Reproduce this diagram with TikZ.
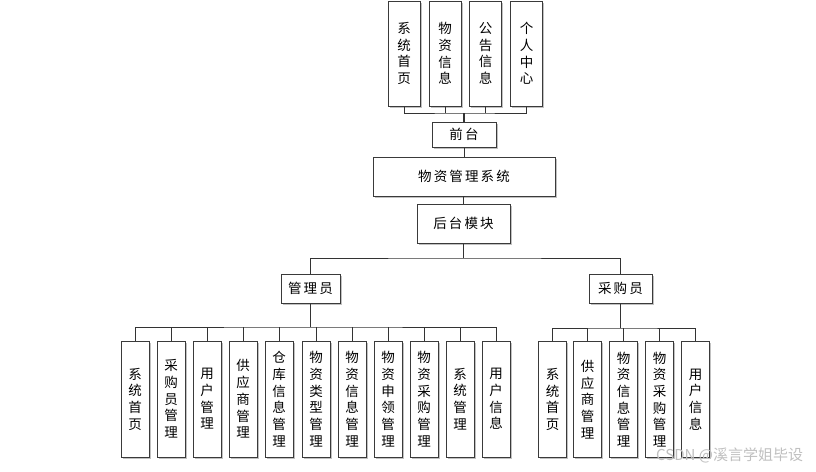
\documentclass[tikz,border=0pt]{standalone}
\usepackage{fontspec}
\newfontfamily\cjk{Noto Sans CJK SC}
\newfontfamily\cjkh[LetterSpace=16]{Noto Sans CJK SC}
\usetikzlibrary{shadows}
\definecolor{linec}{HTML}{333333}
\definecolor{boxc}{HTML}{3A3A3A}
\tikzset{
  box/.style={draw=boxc, line width=1pt, fill=white, inner sep=0pt, align=center,
    font=\cjk\fontsize{13.5pt}{16.7pt}\selectfont,
    drop shadow={shadow xshift=1.6pt, shadow yshift=-1.6pt, fill=black!30, opacity=0.8}},
  hbox/.style={box, font=\cjkh\fontsize{13.5pt}{16.7pt}\selectfont},
  topbox/.style={box, minimum width=32pt, minimum height=105pt},
  leaf/.style={box, minimum width=28pt, minimum height=116pt},
  conn/.style={draw=linec, line width=1pt},
  stem/.style={draw=linec, line width=1.6pt},
}
\begin{document}
\begin{tikzpicture}[x=1pt,y=-1pt]
\useasboundingbox (0,0) rectangle (816,471);
% top level
\node[topbox] (t1) at (404,53.5) {系\\统\\首\\页};
\node[topbox] (t2) at (445,53.5) {物\\资\\信\\息};
\node[topbox] (t3) at (485.5,53.5) {公\\告\\信\\息};
\node[topbox] (t4) at (526.5,53.5) {个\\人\\中\\心};
\node[hbox, minimum width=64pt, minimum height=25pt] (qt) at (464,134.5) {前台};
\node[hbox, minimum width=182pt, minimum height=39pt] (sys) at (464,176.5) {物资管理系统};
\node[hbox, minimum width=93pt, minimum height=39pt] (ht) at (463.5,223.5) {后台模块};
\node[hbox, minimum width=59pt, minimum height=29pt] (adm) at (310.5,288.5) {管理员};
\node[hbox, minimum width=63pt, minimum height=29pt] (buy) at (620.5,288.5) {采购员};
% admin leaves
\node[leaf] (a1) at (135,399) {系\\统\\首\\页};
\node[leaf] (a2) at (171,399) {采\\购\\员\\管\\理};
\node[leaf] (a3) at (207,399) {用\\户\\管\\理};
\node[leaf] (a4) at (243,399) {供\\应\\商\\管\\理};
\node[leaf] (a5) at (279,399) {仓\\库\\信\\息\\管\\理};
\node[leaf] (a6) at (316,399) {物\\资\\类\\型\\管\\理};
\node[leaf] (a7) at (352,399) {物\\资\\信\\息\\管\\理};
\node[leaf] (a8) at (388,399) {物\\资\\申\\领\\管\\理};
\node[leaf] (a9) at (424,399) {物\\资\\采\\购\\管\\理};
\node[leaf] (a10) at (460,399) {系\\统\\管\\理};
\node[leaf] (a11) at (496,399) {用\\户\\信\\息};
% buyer leaves
\node[leaf] (b1) at (552.5,399.5) {系\\统\\首\\页};
\node[leaf] (b2) at (587.5,399.5) {供\\应\\商\\管\\理};
\node[leaf] (b3) at (623.5,399.5) {物\\资\\信\\息\\管\\理};
\node[leaf] (b4) at (659.5,399.5) {物\\资\\采\\购\\管\\理};
\node[leaf] (b5) at (695.5,399.5) {用\\户\\信\\息};
% buses
\coordinate (busT) at (464,113);
\coordinate (busM) at (464,258);
\coordinate (busA) at (310.5,327);
\coordinate (busB) at (620.5,328);
% top connectors
\draw[conn] (t1.south) |- (busT) -| (t4.south);
\foreach \n in {t2,t3} \draw[conn] (\n.south) -- (\n.south |- busT);
\draw[stem] (busT) -- (qt.north);
\draw[conn] (qt.south) -- (sys.north);
\draw[conn] (sys.south) -- (ht.south |- sys.south) -- (ht.north);
\draw[stem] (ht.south) -- (ht.south |- busM);
\draw[conn] (adm.north) |- (busM) -| (buy.north);
% admin connectors
\draw[stem] (adm.south) -- (busA);
\draw[conn] (a1.north) |- (busA) -| (a11.north);
\foreach \n in {a2,a3,a4,a5,a6,a7,a8,a9,a10} \draw[conn] (\n.north) -- (\n.north |- busA);
% buyer connectors
\draw[stem] (buy.south) -- (busB);
\draw[conn] (b1.north) |- (busB) -| (b5.north);
\foreach \n in {b2,b3,b4} \draw[conn] (\n.north) -- (\n.north |- busB);
% watermark
\node[font=\cjk\fontsize{15pt}{17pt}\selectfont, text=black!25, anchor=west, inner sep=0pt] (wm) at (656,455) {CSDN @溪言学姐毕设};
\end{tikzpicture}
\end{document}
